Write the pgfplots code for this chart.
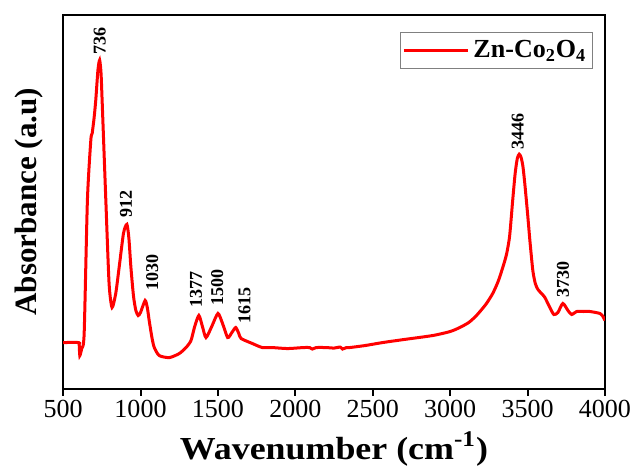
\documentclass[border=0pt]{standalone}
\usepackage{fontspec}
\setmainfont{Liberation Serif}
\usepackage{graphicx}
\usepackage{pgfplots}
\pgfplotsset{compat=1.18}
\begin{document}
\begin{tikzpicture}
\begin{axis}[
  scale only axis,
  width=270.5pt, height=186.5pt,
  xmin=500, xmax=4000, ymin=0, ymax=373,
  xtick={500,1000,...,4000},
  ytick=\empty,
  xtick pos=bottom,
  tick align=outside,
  major tick length=3.5pt,
  axis line style={line width=1pt},
  every tick/.style={line width=1pt, black},
  /pgf/number format/assume math mode=true,
  /pgf/number format/1000 sep={},
  xticklabel style={font=\fontsize{13}{15}\selectfont, inner ysep=2pt, inner xsep=0pt},
  xlabel={\scalebox{1.12}[1]{\fontsize{16}{19}\selectfont\bfseries Wavenumber (cm\textsuperscript{-1})}},
  xlabel style={at={(axis description cs:0.5,0)}, anchor=center, yshift=-30pt, inner sep=0pt},
  ylabel={\fontsize{15.5}{18}\selectfont\bfseries Absorbance (a.u)},
  ylabel style={at={(axis description cs:-0.063,0.5)}, anchor=center, inner sep=0pt},
  legend style={at={(1,1)}, anchor=north east, xshift=-6pt, yshift=-8.3pt,
    draw=gray, line width=0.6pt, inner xsep=1pt, inner ysep=2pt,
    font=\fontsize{13}{15}\selectfont\bfseries},
  legend image code/.code={\draw[#1, line width=1.5pt] (0pt,0pt) -- (32pt,0pt);},
]
\addplot[red, line width=1.5pt, smooth, tension=0.4] coordinates {
(500,46) (600,46) (604,44) (608,33) (620,40) (636,55) (657,188) (679,248)
(688,255) (700,270) (711,288) (725,318) (736,328) (745,315) (752,288)
(776,188) (797,105) (816,81) (840,95) (862,121) (890,155) (912,164)
(925,150) (938,121) (955,92) (970,78) (985,73) (1000,76) (1030,88)
(1045,80) (1056,68) (1075,50) (1089,41) (1121,33) (1186,31) (1250,35)
(1294,41) (1326,48) (1350,62) (1377,73) (1400,62) (1423,51) (1460,62)
(1500,75) (1530,65) (1563,51) (1590,56) (1615,61) (1635,55) (1650,50)
(1723,45) (1787,41) (1850,41) (1950,40) (2050,41) (2092,41) (2110,39.5)
(2135,41) (2200,41) (2250,40.5) (2290,41.5) (2305,39.5) (2330,41) (2350,41)
(2450,43) (2564,46) (2700,49) (2887,53) (3000,57) (3062,61) (3120,66)
(3170,73) (3230,84) (3275,95) (3310,107) (3340,121) (3364,134) (3384,152)
(3404,188) (3420,215) (3434,230) (3446,234) (3458,231) (3470,222) (3482,205)
(3500,175) (3515,148) (3534,118) (3550,105) (3567,99) (3590,95) (3612,91)
(3644,81) (3670,74) (3696,76) (3728,85) (3761,78) (3785,74) (3817,77)
(3860,77) (3903,77) (3968,75) (3987,72) (4000,68)
};
\addlegendentry{Zn-Co\textsubscript{2}O\textsubscript{4}}
\begin{scope}[every node/.style={rotate=90, anchor=west, inner sep=0pt, font=\fontsize{9}{10}\selectfont\bfseries}]
\node at (axis cs:736,333) {736};
\node at (axis cs:906,170) {912};
\node at (axis cs:1076,98) {1030};
\node at (axis cs:1358,81) {1377};
\node at (axis cs:1496,83) {1500};
\node at (axis cs:1671,65) {1615};
\node at (axis cs:3437,238) {3446};
\node at (axis cs:3728,91) {3730};
\end{scope}
\end{axis}
\path ([shift={(-31.5pt,-37.5pt)}]current axis.south west) rectangle ([shift={(14.5pt,7.5pt)}]current axis.north east);
\end{tikzpicture}
\end{document}
